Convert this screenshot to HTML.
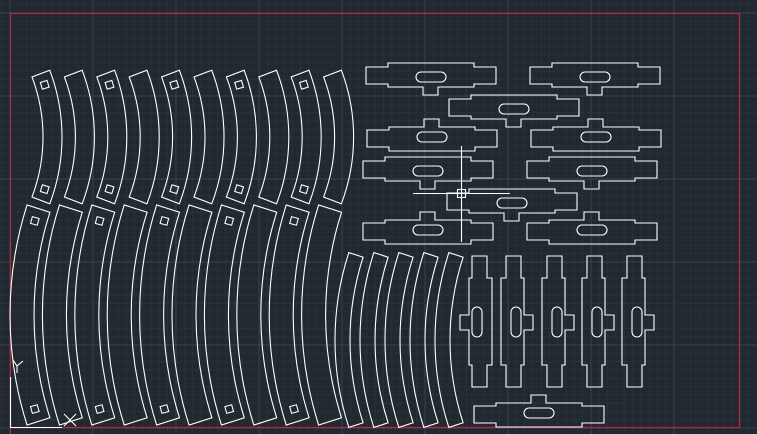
<!DOCTYPE html>
<html><head><meta charset="utf-8"><style>
html,body{margin:0;padding:0;background:#212830;}
svg{display:block}
</style></head><body>
<svg id="s" width="757" height="434" xmlns="http://www.w3.org/2000/svg">
<rect width="757" height="434" fill="#212830"/>
<g id="grid"></g>
<g id="parts" fill="none" stroke="#ffffff" stroke-width="1.1"></g>
</svg>
<script>
(function(){
var NS="http://www.w3.org/2000/svg";
var grid=document.getElementById("grid"), P=document.getElementById("parts");
function el(parent,tag,attrs){var e=document.createElementNS(NS,tag);for(var k in attrs)e.setAttribute(k,attrs[k]);parent.appendChild(e);return e;}
var step=83/10;
for(var i=-2;i<100;i++){
  var x=10+i*step; if(x<0||x>757) continue;
  var major=(i%10===0);
  el(grid,"line",{x1:x,y1:0,x2:x,y2:434,stroke:major?"#3b424c":"#283039","stroke-width":1});
}
for(var j=-2;j<60;j++){
  var y=13+j*step; if(y<0||y>434) continue;
  var major=(j%10===0);
  el(grid,"line",{x1:0,y1:y,x2:757,y2:y,stroke:major?"#3b424c":"#283039","stroke-width":1});
}
el(grid,"polyline",{points:"10.5,434 10.5,13.5 739.5,13.5 739.5,427.5 10.5,427.5",fill:"none",stroke:"#b32a3a","stroke-width":1.2});
function sector(cx,cy,r1,r2,a,left){
  var A=a*Math.PI/180,s=Math.sin(A),c=Math.cos(A),d;
  if(!left){
    d="M"+(cx+r2*c)+","+(cy-r2*s)+" A"+r2+","+r2+" 0 0 1 "+(cx+r2*c)+","+(cy+r2*s)+
      " L"+(cx+r1*c)+","+(cy+r1*s)+" A"+r1+","+r1+" 0 0 0 "+(cx+r1*c)+","+(cy-r1*s)+" Z";
  } else {
    d="M"+(cx-r2*c)+","+(cy-r2*s)+" A"+r2+","+r2+" 0 0 0 "+(cx-r2*c)+","+(cy+r2*s)+
      " L"+(cx-r1*c)+","+(cy+r1*s)+" A"+r1+","+r1+" 0 0 1 "+(cx-r1*c)+","+(cy-r1*s)+" Z";
  }
  el(P,"path",{d:d});
}
function sq(cx,cy,r,ang,left){
  var A=ang*Math.PI/180;
  var x=left?cx-r*Math.cos(A):cx+r*Math.cos(A), y=cy+r*Math.sin(A);
  var rot=left?-ang:ang;
  el(P,"rect",{x:x-3.5,y:y-3.5,width:7,height:7,transform:"rotate("+rot+" "+x+" "+y+")"});
}
for(var i=0;i<10;i++){
  var cx=-126+32.4*i;
  sector(cx,137,169,188,20.8,false);
  if(i%2===0){sq(cx,137,178.5,-17,false);sq(cx,137,178.5,17,false);}
}
for(var i=0;i<10;i++){
  var cx=374+32.4*i;
  sector(cx,315,340,364,17.6,true);
  if(i%2===0){sq(cx,315,352,-15.5,true);sq(cx,315,352,15.5,true);}
}
for(var i=0;i<5;i++){ sector(618+25*i,340,268,283,18,true); }
function hp(x0,y0,up){
  var pts=[[0,4],[22,4],[22,0],[108,0],[108,4],[130,4],[130,21],[108,21],[108,24],[72,24],[72,32],[57,32],[57,24],[22,24],[22,21],[0,21]];
  var s=pts.map(function(p){var y=up?24-p[1]:p[1];return (x0+p[0])+","+(y0+y);}).join(" ");
  el(P,"polygon",{points:s});
  var sy=up?5:9;
  el(P,"rect",{x:x0+50,y:y0+sy,width:30,height:10,rx:5});
}
hp(366,63,false);hp(530,63,false);hp(449,95,false);
hp(367,127,true);hp(531,127,true);
hp(363,157,false);hp(527,157,false);
hp(447,189,false);
hp(363,220,true);hp(527,220,true);
hp(474,403,true);
function vp(b,wl){
  var pts=[[5,256],[20,256],[20,278],[23,278],[23,315],[32,315],[32,330],[23,330],[23,365],[20,365],[20,387],[5,387],[5,365],[0,365],[0,278],[5,278]];
  var s=pts.map(function(p){var x=wl?23-p[0]:p[0];return (b+x)+","+p[1];}).join(" ");
  el(P,"polygon",{points:s});
  var sx=wl?3:10;
  el(P,"rect",{x:b+sx,y:307,width:10,height:30,rx:5});
}
vp(469,true);vp(501,false);vp(542,false);vp(582,false);vp(622,false);
el(P,"line",{x1:461.5,y1:146,x2:461.5,y2:242});
el(P,"line",{x1:413,y1:193.5,x2:510,y2:193.5});
el(P,"rect",{x:457.5,y:189.5,width:8,height:8});
el(P,"polyline",{points:"10.5,377 10.5,427.5 62,427.5"});
el(P,"polyline",{points:"13,360 17,366 23,361"});
el(P,"line",{x1:17,y1:366,x2:17,y2:373});
el(P,"line",{x1:64,y1:414,x2:76,y2:426});
el(P,"line",{x1:76,y1:414,x2:64,y2:426});
})();
</script>
</body></html>
